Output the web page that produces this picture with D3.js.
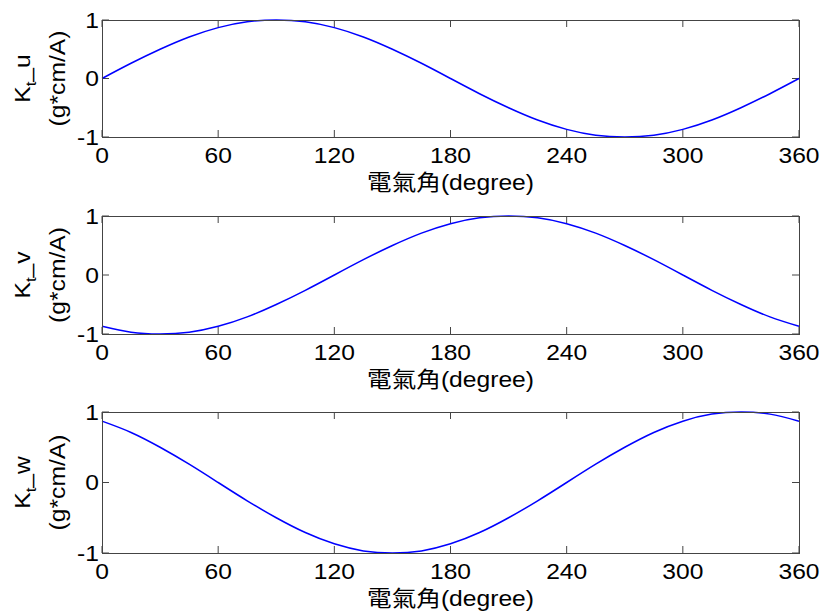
<!DOCTYPE html>
<html>
<head>
<meta charset="utf-8">
<script src="https://cdn.jsdelivr.net/npm/d3@7"></script>
<style>
  body { margin: 0; background: #fff; }
  text { font-family: "Liberation Sans", Arial, sans-serif; fill: #000; }
</style>
</head>
<body>
<div id="chart"></div>
<script>
// electrical angle samples (degree)
const angles = [0, 15, 30, 45, 60, 75, 90, 105, 120, 135, 150, 165, 180,
  195, 210, 225, 240, 255, 270, 285, 300, 315, 330, 345, 360]

// torque constants
const ktU = [0, 0.26, 0.5, 0.71, 0.87, 0.97, 1, 0.97, 0.87, 0.71, 0.5, 0.26, 0,
  -0.26, -0.5, -0.71, -0.87, -0.97, -1, -0.97, -0.87, -0.71, -0.5, -0.26, 0]
const ktV = [-0.87, -0.97, -1, -0.97, -0.87, -0.71, -0.5, -0.26, 0, 0.26, 0.5, 0.71, 0.87,
  0.97, 1, 0.97, 0.87, 0.71, 0.5, 0.26, 0, -0.26, -0.5, -0.71, -0.87]
const ktW = [0.87, 0.71, 0.5, 0.26, 0, -0.26, -0.5, -0.71, -0.87, -0.97, -1, -0.97, -0.87,
  -0.71, -0.5, -0.26, 0, 0.26, 0.5, 0.71, 0.87, 0.97, 1, 0.97, 0.87]

const xTicks = [0, 60, 120, 180, 240, 300, 360]
const yTicks = [-1, 0, 1]
const phases = ['u', 'v', 'w']
const unitLabel = '(g*cm/A)'
const xLabelCjk = '電氣角'
const xLabelLatin = '(degree)'

var w = 824, h = 612
var left = 102, right = 799
var panels = [
  { top: 20, bottom: 137, values: ktU },
  { top: 216, bottom: 334, values: ktV },
  { top: 412, bottom: 553, values: ktW }
]

// the reference text is a bit wider than Arial, stretch it
var sx = 1.12

var svg = d3.select('#chart')
  .append('svg')
  .attr('width', w)
  .attr('height', h)

var x = d3.scaleLinear().domain([0, 360]).range([left, right])
var tickLen = 7

function label(g, tx, ty, rot) {
  return g.append('text')
    .attr('transform', 'translate(' + tx + ',' + ty + ')' + (rot ? ' rotate(-90)' : '') + ' scale(' + sx + ',1)')
    .style('font-size', '22px')
}

panels.forEach(function (p, i) {
  var y = d3.scaleLinear().domain([-1, 1]).range([p.bottom, p.top])
  var g = svg.append('g')

  // inward ticks on all four sides (matlab box style)
  xTicks.forEach(function (t) {
    g.append('line')
      .attr('x1', x(t)).attr('x2', x(t))
      .attr('y1', p.bottom).attr('y2', p.bottom - tickLen)
      .attr('stroke', '#444')
    g.append('line')
      .attr('x1', x(t)).attr('x2', x(t))
      .attr('y1', p.top).attr('y2', p.top + tickLen)
      .attr('stroke', '#444')
    label(g, x(t), p.bottom + 26)
      .attr('text-anchor', 'middle')
      .text(t)
  })
  yTicks.forEach(function (t) {
    g.append('line')
      .attr('x1', left).attr('x2', left + tickLen)
      .attr('y1', y(t)).attr('y2', y(t))
      .attr('stroke', '#444')
    g.append('line')
      .attr('x1', right).attr('x2', right - tickLen)
      .attr('y1', y(t)).attr('y2', y(t))
      .attr('stroke', '#444')
    label(g, left - 3, y(t))
      .attr('dy', '0.36em')
      .attr('text-anchor', 'end')
      .text(t)
  })

  // the curve
  var line = d3.line()
    .x(function (d, k) { return x(angles[k]) })
    .y(function (d) { return y(d) })
    .curve(d3.curveNatural)

  g.append('path')
    .datum(p.values)
    .attr('d', line)
    .attr('fill', 'none')
    .attr('stroke', '#0000ff')
    .attr('stroke-width', 1.5)

  // box
  g.append('rect')
    .attr('x', left + 0.5)
    .attr('y', p.top + 0.5)
    .attr('width', right - left)
    .attr('height', p.bottom - p.top)
    .attr('fill', 'none')
    .attr('stroke', '#444')

  // y label, two lines rotated
  var cy = (p.top + p.bottom) / 2
  var yl = label(g, 30, cy, true)
    .attr('text-anchor', 'middle')
  yl.append('tspan').text('K')
  yl.append('tspan').attr('dy', 6).style('font-size', '15px').text('t')
  yl.append('tspan').attr('dy', -6).text('_' + phases[i])

  label(g, 65, cy, true)
    .attr('text-anchor', 'middle')
    .text(unitLabel)

  // x label
  var xl = label(g, (left + right) / 2, p.bottom + 53)
    .attr('text-anchor', 'middle')
  xl.append('tspan').style('font-family', '"Noto Sans CJK TC"').text(xLabelCjk)
  xl.append('tspan').text(xLabelLatin)
})
</script>
</body>
</html>
